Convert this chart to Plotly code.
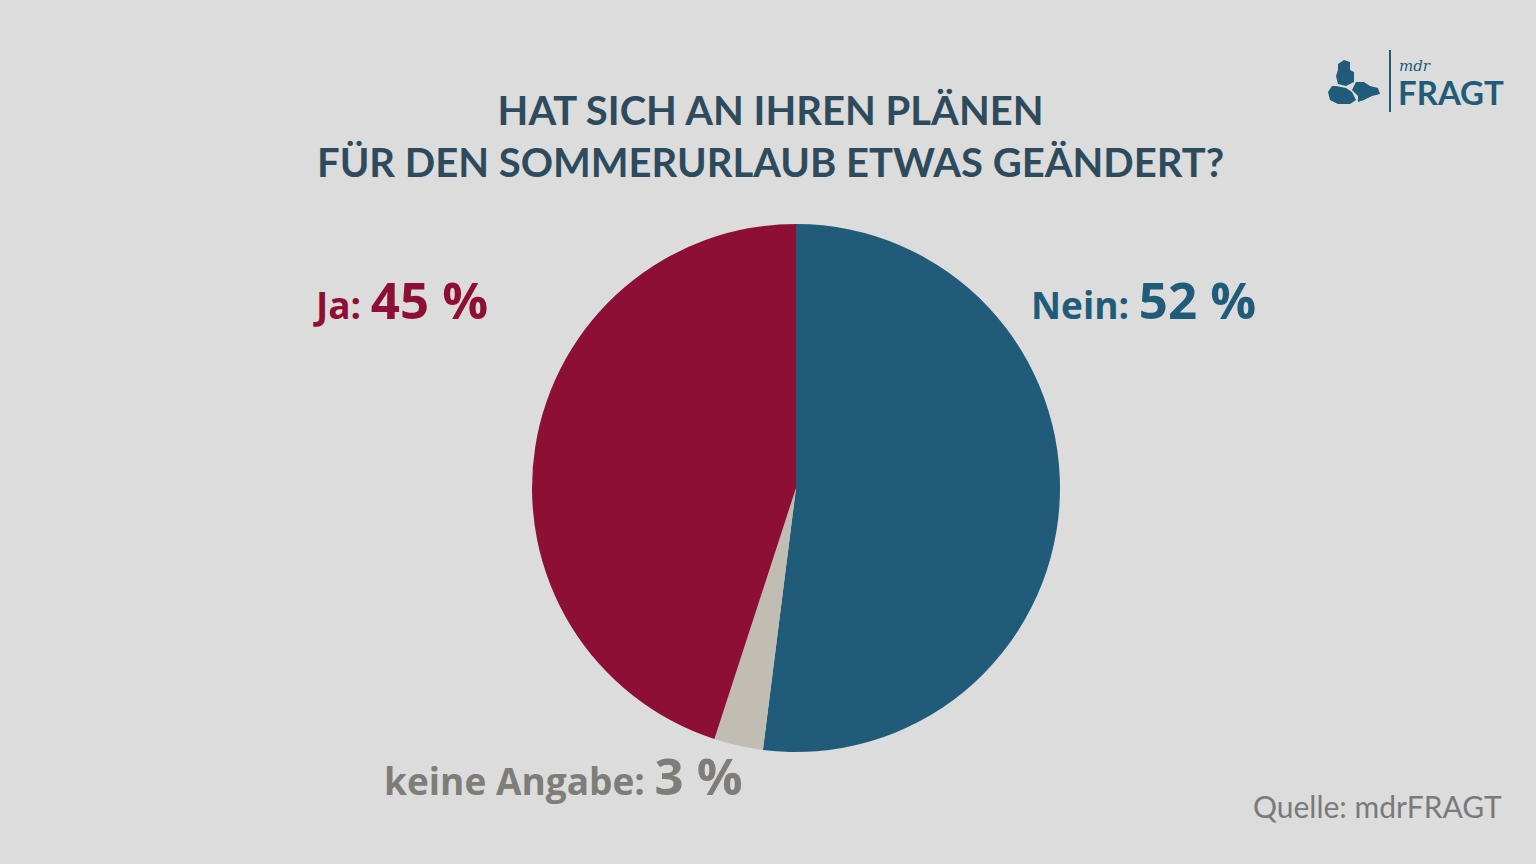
import plotly.graph_objects as go

categories = ["Nein", "keine Angabe", "Ja"]
values = [52, 3, 45]
colors = ["#215b7a", "#c2bdb3", "#8e0f35"]
title_lines = ["HAT SICH AN IHREN PLÄNEN", "FÜR DEN SOMMERURLAUB ETWAS GEÄNDERT?"]
source = "Quelle: mdrFRAGT"

W, H = 1536, 864
bg = "#dcdcdc"
font_lbl = "Open Sans"

fig = go.Figure()
fig.add_trace(go.Pie(
    labels=categories, values=values, sort=False, direction="clockwise", rotation=0,
    marker=dict(colors=colors, line=dict(width=0)),
    textinfo="none", hoverinfo="label+percent", showlegend=False,
    domain=dict(x=[532 / W, 1060 / W], y=[(H - 752) / H, (H - 224) / H]),
))

def lbl(name, val):
    return (f"<b><span style='font-size:37px'>{name}: </span>"
            f"<span style='font-size:51px'>{val} %</span></b>")

def P(x, y):
    return x / W, (H - y) / H

ann = []
x, y = P(770, 136)
ann.append(dict(text="<b>" + title_lines[0] + "<br>" + title_lines[1] + "</b>", x=x, y=y,
                xref="paper", yref="paper", showarrow=False, xanchor="center", yanchor="middle",
                font=dict(family="Lato", size=40, color="#2e4b5e"), align="center"))
x, y = P(490, 299)
ann.append(dict(text=lbl(categories[2], values[2]), x=x, y=y,
                xref="paper", yref="paper", showarrow=False, xanchor="right", yanchor="middle",
                font=dict(family=font_lbl, size=37, color=colors[2])))
x, y = P(1029, 299)
ann.append(dict(text=lbl(categories[0], values[0]), x=x, y=y,
                xref="paper", yref="paper", showarrow=False, xanchor="left", yanchor="middle",
                font=dict(family=font_lbl, size=37, color=colors[0])))
x, y = P(382, 775)
ann.append(dict(text=lbl(categories[1], values[1]), x=x, y=y,
                xref="paper", yref="paper", showarrow=False, xanchor="left", yanchor="middle",
                font=dict(family=font_lbl, size=37, color="#7f7d78")))
x, y = P(1504, 806)
ann.append(dict(text=source, x=x, y=y,
                xref="paper", yref="paper", showarrow=False, xanchor="right", yanchor="middle",
                font=dict(family="Lato", size=30, color="#7a7a7a")))
# logo texts
x, y = P(1397, 66)
ann.append(dict(text="<i>mdr</i>", x=x, y=y, xref="paper", yref="paper",
                showarrow=False, xanchor="left", yanchor="middle",
                font=dict(family="DejaVu Serif", size=15, color="#215b7a")))
x, y = P(1396, 92)
ann.append(dict(text="<b>FRAGT</b>", x=x, y=y, xref="paper", yref="paper",
                showarrow=False, xanchor="left", yanchor="middle",
                font=dict(family="Lato", size=33, color="#215b7a")))

shapes = []
x0, y0 = P(1390, 50)
x1, y1 = P(1390, 112)
shapes.append(dict(type="line", xref="paper", yref="paper", x0=x0, x1=x1, y0=y0, y1=y1,
                   line=dict(color="#215b7a", width=2)))

def path_of(pts):
    return "M " + " L ".join("{:.5f},{:.5f}".format(*P(a, b)) for a, b in pts) + " Z"

icon_parts = [
    # top block
    [(1338, 64), (1344, 60), (1350, 62), (1350, 70), (1354, 72), (1354, 82), (1346, 86), (1338, 84),
     (1336, 76), (1338, 70)],
    # lower left
    [(1336, 86), (1346, 88), (1352, 92), (1356, 100), (1350, 104), (1338, 104), (1330, 100), (1328, 92),
     (1332, 86)],
    # right piece
    [(1356, 82), (1364, 82), (1370, 86), (1378, 88), (1380, 94), (1372, 96), (1364, 100), (1358, 102),
     (1358, 96), (1352, 90)],
]
for pts in icon_parts:
    shapes.append(dict(type="path", xref="paper", yref="paper", path=path_of(pts),
                       fillcolor="#215b7a", line=dict(width=0)))

fig.update_layout(
    width=W, height=H, paper_bgcolor=bg, plot_bgcolor=bg,
    margin=dict(l=0, r=0, t=0, b=0), annotations=ann, shapes=shapes,
)
fig.write_html("out.html", config={"displayModeBar": False},
               post_script="document.body.style.margin='0';")
